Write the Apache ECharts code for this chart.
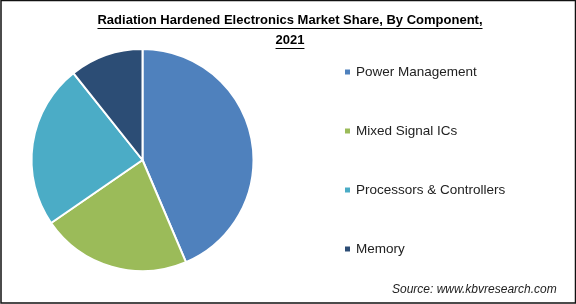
<!DOCTYPE html>
<html>
<head>
<meta charset="utf-8">
<script src="https://cdn.jsdelivr.net/npm/echarts@6/dist/echarts.min.js"></script>
<style>
html,body{margin:0;padding:0;background:#fff;}
#c{width:576px;height:304px;}
</style>
</head>
<body>
<div id="c"></div>
<script>
const categories = ["Power Management", "Mixed Signal ICs", "Processors & Controllers", "Memory"];
const values = [43.6, 21.8, 23.9, 10.7];
const colors = ["#4f81bd", "#9bbb59", "#4bacc6", "#2c4d75"];
const titleLine1 = "Radiation Hardened Electronics Market Share, By Component,";
const titleLine2 = "2021";
const sourceText = "Source: www.kbvresearch.com";

const titleFont = 'bold 13px "Liberation Sans"';
const cv = document.createElement('canvas').getContext('2d');
cv.font = titleFont;
const w1 = cv.measureText(titleLine1).width;
const w2 = cv.measureText(titleLine2).width;
const tcx = 290;

const chart = echarts.init(document.getElementById('c'));
chart.setOption({
  animation: false,
  color: colors,
  legend: {
    orient: 'vertical',
    left: 338,
    top: 59,
    itemWidth: 7,
    itemHeight: 7,
    itemGap: 43,
    icon: 'rect',
    textStyle: { fontFamily: 'Liberation Sans', fontSize: 13.5, color: '#222', lineHeight: 16 },
    data: categories
  },
  graphic: [
    { type: 'text', left: tcx - w1 / 2, top: 14, style: { text: titleLine1, font: titleFont, fill: '#000' } },
    { type: 'text', left: tcx - w2 / 2, top: 34, style: { text: titleLine2, font: titleFont, fill: '#000' } },
    { type: 'line', shape: { x1: tcx - w1 / 2, y1: 28.5, x2: tcx + w1 / 2, y2: 28.5 }, style: { stroke: '#000', lineWidth: 1 } },
    { type: 'line', shape: { x1: tcx - w2 / 2, y1: 48.5, x2: tcx + w2 / 2, y2: 48.5 }, style: { stroke: '#000', lineWidth: 1 } },
    { type: 'text', left: 392, top: 284, style: { text: sourceText, font: 'italic 12px "Liberation Sans"', fill: '#222' } },
    { type: 'rect', shape: { x: 1, y: 0.5, width: 574.5, height: 302.5 }, style: { fill: 'none', stroke: '#111', lineWidth: 1.5 }, z: 100 }
  ],
  series: [{
    type: 'pie',
    center: [142.5, 160],
    radius: 111,
    startAngle: 90,
    clockwise: true,
    label: { show: false },
    labelLine: { show: false },
    itemStyle: { borderColor: '#fff', borderWidth: 2 },
    emphasis: { disabled: true },
    data: categories.map((n, i) => ({ name: n, value: values[i] }))
  }]
});
</script>
</body>
</html>
